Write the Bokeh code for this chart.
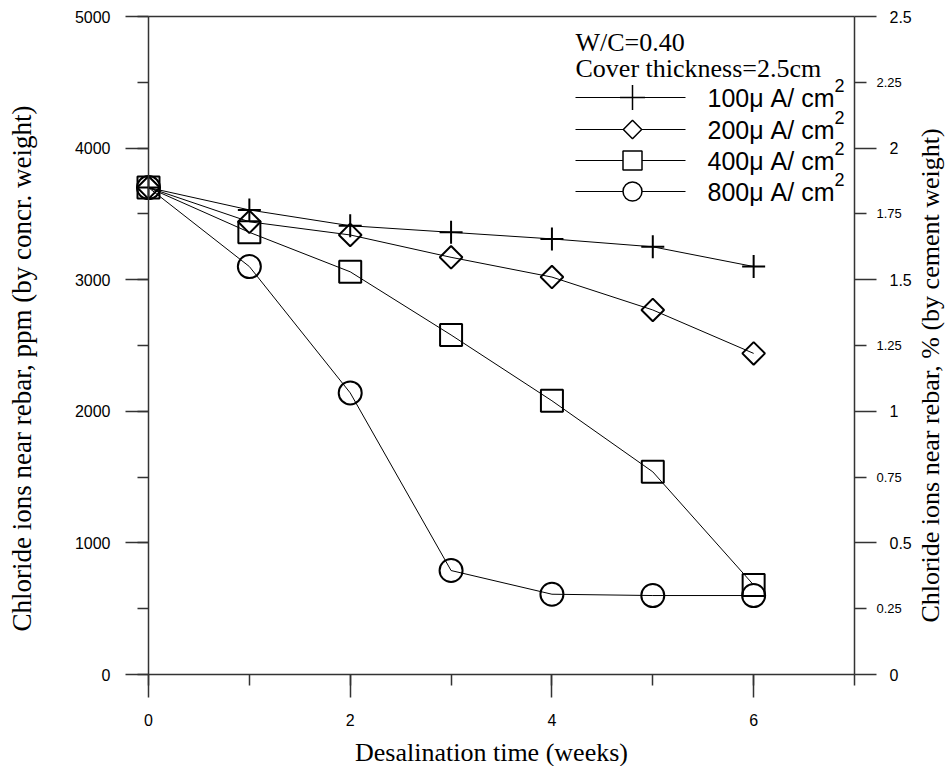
import numpy as np
from bokeh.plotting import figure
from bokeh.models import (Range1d, LinearAxis, SingleIntervalTicker, FixedTicker)
from bokeh.core.properties import value
from bokeh.embed import file_html
from bokeh.resources import INLINE

# ---- data ----
weeks = [0, 1, 2, 3, 4, 5, 6]
c100 = [3700, 3530, 3410, 3360, 3310, 3250, 3100]
c200 = [3700, 3440, 3340, 3170, 3020, 2770, 2440]
c400 = [3700, 3360, 3060, 2580, 2080, 1540, 680]
c800 = [3700, 3100, 2140, 790, 610, 600, 600]
series_labels = ["100\u03bc A/ cm", "200\u03bc A/ cm", "400\u03bc A/ cm", "800\u03bc A/ cm"]
pct_major = [0, 0.5, 1, 1.5, 2, 2.5]
pct_major_text = ["0", "0.5", "1", "1.5", "2", "2.5"]
pct_minor = [0.25, 0.75, 1.25, 1.75, 2.25]
pct_minor_text = ["0.25", "0.75", "1.25", "1.75", "2.25"]
x_title = "Desalination time (weeks)"
y_title = "Chloride ions near rebar, ppm (by concr. weight)"
y2_title = "Chloride ions near rebar, % (by cement weight)"
note1 = "W/C=0.40"
note2 = "Cover thickness=2.5cm"

SANS = "Liberation Sans"
SERIF = "Liberation Serif"
AX = "#333333"

# page layout (pixels): the data box spans x 0..7 and y 0..5000
W, H = 946, 766
BOX_L, BOX_B = 148, 674
XMAX, YMAX, PMAX = 7, 5000, 2.5
PXW = 706 / XMAX          # pixels per week
PPY = 658 / YMAX          # pixels per ppm

def dx(px):
    return (px - BOX_L) / PXW

def dy(py):
    return (BOX_B - py) / PPY

x0, x1 = dx(0), dx(W)
y0, y1 = dy(H), dy(0)
k = PMAX / YMAX

p = figure(frame_width=W, frame_height=H,
           x_range=Range1d(x0, x1), y_range=Range1d(y0, y1),
           min_border=0, output_backend="svg", toolbar_location=None)
p.extra_y_ranges = {"pct": Range1d(y0 * k, y1 * k)}
p.grid.visible = False
p.outline_line_color = None
p.background_fill_color = "white"
p.border_fill_color = "white"

def style_axis(ax, major_out, minor_out, standoff, font_size="16px"):
    ax.axis_line_color = AX
    ax.axis_line_width = 1.5
    ax.major_tick_line_color = AX
    ax.minor_tick_line_color = AX
    ax.major_tick_line_width = 1.5
    ax.minor_tick_line_width = 1.5
    ax.major_tick_in = 0
    ax.minor_tick_in = 0
    ax.major_tick_out = major_out
    ax.minor_tick_out = minor_out
    ax.major_label_standoff = standoff
    ax.major_label_text_font = SANS
    ax.major_label_text_font_size = font_size
    ax.major_label_text_color = "black"

xa = p.xaxis[0]
xa.ticker = SingleIntervalTicker(interval=2, num_minor_ticks=2)
xa.fixed_location = 0
xa.bounds = (0, XMAX)
style_axis(xa, 23, 11, 16)

ya = p.yaxis[0]
ya.ticker = SingleIntervalTicker(interval=1000, num_minor_ticks=2)
ya.fixed_location = 0
ya.bounds = (0, YMAX)
style_axis(ya, 23, 11, 15)

# top border of the box
ta = LinearAxis(ticker=FixedTicker(ticks=[], minor_ticks=[]), bounds=(0, XMAX),
                fixed_location=YMAX)
style_axis(ta, 0, 0, 0)
p.add_layout(ta, "above")

# right-hand axis (percent by cement weight) drawn at x = 7
ra = LinearAxis(y_range_name="pct", fixed_location=XMAX, bounds=(0, PMAX),
                ticker=FixedTicker(ticks=pct_major, minor_ticks=[]))
style_axis(ra, 22, 0, 13)
ra.major_label_overrides = {t: s for t, s in zip(pct_major, pct_major_text)}
p.add_layout(ra, "right")

ra2 = LinearAxis(y_range_name="pct", fixed_location=XMAX, bounds=(0, PMAX),
                 ticker=FixedTicker(ticks=pct_minor, minor_ticks=[]))
style_axis(ra2, 12, 0, 10, font_size="13px")
ra2.axis_line_color = None
ra2.major_label_overrides = {t: s for t, s in zip(pct_minor, pct_minor_text)}
p.add_layout(ra2, "right")

# axis titles
p.text(x=[dx(491)], y=[dy(752)], text=[x_title], text_font=value(SERIF),
       text_font_size="26px", text_align="center", text_baseline="middle", text_color="black")
p.text(x=[dx(21)], y=[dy(368)], text=[y_title], angle=np.pi / 2, text_font=value(SERIF),
       text_font_size="27px", text_align="center", text_baseline="middle", text_color="black")
p.text(x=[dx(930)], y=[dy(375)], text=[y2_title], angle=np.pi / 2, text_font=value(SERIF),
       text_font_size="26px", text_align="center", text_baseline="middle", text_color="black")

# ---- series ----
series = [c100, c200, c400, c800]
markers = ["cross", "square", "square", "circle"]
sizes = [23, 16, 22, 23]
angles = [0, np.pi / 4, 0, 0]
for ys, m, s, a in zip(series, markers, sizes, angles):
    p.line(weeks, ys, line_color="black", line_width=1)
    p.scatter(weeks, ys, marker=m, size=s, angle=a, fill_color=None,
              line_color="black", line_width=2)

# ---- custom legend ----
rows = [dy(97), dy(129), dy(160), dy(191)]
leg_sizes = [25, 13, 19, 19]
p.segment(x0=[dx(575)] * 4, x1=[dx(685)] * 4, y0=rows, y1=rows,
          line_color="black", line_width=1)
for r, m, s, a in zip(rows, markers, leg_sizes, angles):
    p.scatter([dx(632)], [r], marker=m, size=s, angle=a, fill_color="white",
              line_color="black", line_width=1.5)
p.text(x=[dx(707)] * 4, y=rows, text=series_labels, text_font=value(SANS),
       text_font_size="25px", text_baseline="middle", text_align="left", text_color="black")
p.text(x=[dx(834)] * 4, y=[r + 12 / PPY for r in rows], text=["2"] * 4,
       text_font=value(SANS), text_font_size="18px", text_baseline="middle",
       text_align="left", text_color="black")
p.text(x=[dx(575), dx(575)], y=[dy(42), dy(68)], text=[note1, note2],
       text_font=value(SERIF), text_font_size="26px", text_baseline="middle",
       text_align="left", text_color="black")

open("out.html", "w").write(file_html(p, INLINE))
